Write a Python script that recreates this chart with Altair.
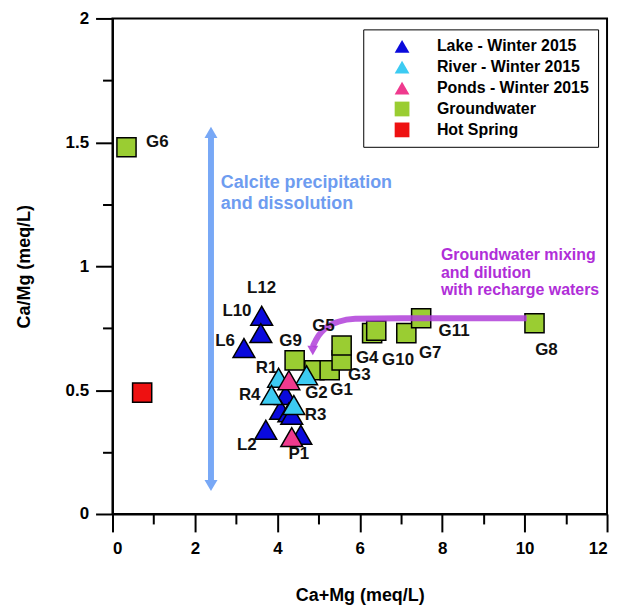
import altair as alt
import pandas as pd

# ---- data ----
lake_x = [3.62, 3.60, 3.19, 3.72, 4.20, 4.08, 4.28, 4.35, 4.57]
lake_y = [0.80, 0.73, 0.67, 0.34, 0.48, 0.42, 0.41, 0.40, 0.32]
river_x = [4.03, 4.71, 3.86, 4.40]
river_y = [0.55, 0.56, 0.48, 0.44]
pond_x = [4.28, 4.35]
pond_y = [0.54, 0.31]
gw_x = [0.34, 4.42, 4.90, 5.27, 5.56, 5.56, 6.30, 6.40, 7.13, 7.49, 10.24]
gw_y = [1.48, 0.62, 0.58, 0.58, 0.62, 0.68, 0.73, 0.74, 0.73, 0.79, 0.77]
hot_x = [0.72]
hot_y = [0.49]

categories = ["Lake - Winter 2015", "River - Winter 2015", "Ponds - Winter 2015",
              "Groundwater", "Hot Spring"]
colors = ["#0a0adc", "#3ccbf2", "#ef3a8e", "#9acd32", "#ee1111"]
shapes = ["triangle-up", "triangle-up", "triangle-up", "square", "square"]

label_text = ["G6", "L12", "L10", "L6", "L2", "G9", "G5", "R1", "R4", "G2", "G1",
              "G3", "G4", "G10", "G7", "G11", "G8", "R3", "P1"]
label_x = [1.09, 3.62, 3.02, 2.73, 3.26, 4.32, 5.12, 3.74, 3.33, 4.95, 5.56,
           5.99, 6.18, 6.93, 7.71, 8.29, 10.53, 4.93, 4.52]
label_y = [1.50, 0.91, 0.82, 0.70, 0.28, 0.70, 0.76, 0.59, 0.48, 0.49, 0.50,
           0.56, 0.63, 0.62, 0.65, 0.74, 0.66, 0.40, 0.24]

calcite_lines = ["Calcite precipitation", "and dissolution"]
calcite_x = [2.63, 2.63]
calcite_y = [1.336, 1.250]

mixing_lines = ["Groundwater mixing", "and dilution", "with recharge waters"]
mixing_x = [7.97, 7.97, 7.97]
mixing_y = [1.044, 0.972, 0.904]

# blue double arrow
calcite_arrow_x = [2.39]
calcite_arrow_y = [0.13]
calcite_arrow_y2 = [1.53]
calcite_head_top = [1.54]
calcite_head_bottom = [0.115]

# purple curved arrow
mix_curve_x = [10.05, 7.0, 5.89, 5.48, 5.17, 5.0, 4.90, 4.86]
mix_curve_y = [0.79, 0.79, 0.788, 0.776, 0.75, 0.72, 0.69, 0.675]
mix_head_x = [4.86]
mix_head_y = [0.66]

# ---- tables ----
squares = pd.DataFrame({
    "x": gw_x + hot_x,
    "y": gw_y + hot_y,
    "type": ["Groundwater"] * len(gw_x) + ["Hot Spring"] * len(hot_x),
})
tris = pd.DataFrame({
    "x": lake_x + river_x + pond_x,
    "y": lake_y + river_y + pond_y,
    "type": ["Lake - Winter 2015"] * len(lake_x) + ["River - Winter 2015"] * len(river_x)
            + ["Ponds - Winter 2015"] * len(pond_x),
})
labels = pd.DataFrame({"x": label_x, "y": label_y, "t": label_text})
calc_txt = pd.DataFrame({"x": calcite_x, "y": calcite_y, "t": calcite_lines})
mix_txt = pd.DataFrame({"x": mixing_x, "y": mixing_y, "t": mixing_lines})
arrow_df = pd.DataFrame({"x": calcite_arrow_x, "y": calcite_arrow_y, "y2": calcite_arrow_y2})
head_top_df = pd.DataFrame({"x": calcite_arrow_x, "y": calcite_head_top})
head_bot_df = pd.DataFrame({"x": calcite_arrow_x, "y": calcite_head_bottom})
curve_df = pd.DataFrame({"x": mix_curve_x, "y": mix_curve_y, "o": list(range(len(mix_curve_x)))})
mhead_df = pd.DataFrame({"x": mix_head_x, "y": mix_head_y})

FONT = "Liberation Sans"
xs = alt.Scale(domain=[0, 12], nice=False, zero=False)
ys = alt.Scale(domain=[0, 2], nice=False, zero=False)

x_major = alt.Axis(values=[0, 2, 4, 6, 8, 10, 12], title="Ca+Mg (meq/L)", grid=False,
                   tickSize=18, tickWidth=2, domainWidth=2, domainColor="black",
                   tickColor="black", labelPadding=9, titlePadding=30, format="~g",
                   labelFont=FONT, labelFontSize=17, labelFontWeight="bold", labelColor="black",
                   titleFont=FONT, titleFontSize=18, titleFontWeight="bold", titleColor="black",
                   orient="bottom")
y_major = alt.Axis(values=[0, 0.5, 1, 1.5, 2], title="Ca/Mg (meq/L)", grid=False,
                   tickSize=17, tickWidth=2, domainWidth=2, domainColor="black",
                   tickColor="black", labelPadding=7, titlePadding=32, format="~g",
                   labelFont=FONT, labelFontSize=17, labelFontWeight="bold", labelColor="black",
                   titleFont=FONT, titleFontSize=18, titleFontWeight="bold", titleColor="black",
                   orient="left")
x_minor = alt.Axis(values=[1, 3, 5, 7, 9, 11], labels=False, title=None, grid=False,
                   tickSize=10, tickWidth=2, domain=False, tickColor="black", orient="bottom")
y_minor = alt.Axis(values=[0.25, 0.75, 1.25, 1.75], labels=False, title=None, grid=False,
                   tickSize=10, tickWidth=2, domain=False, tickColor="black", orient="left")

legend = alt.Legend(title=None, orient="none", legendX=252, legendY=11,
                    fillColor="white", strokeColor="black", padding=9,
                    symbolSize=220, symbolStrokeWidth=0, symbolOffset=22,
                    labelOffset=27, rowPadding=5,
                    labelFont=FONT, labelFontSize=16,
                    labelFontWeight="bold", labelColor="black")
color_enc = alt.Color("type:N", scale=alt.Scale(domain=categories, range=colors), legend=legend)
shape_enc = alt.Shape("type:N", scale=alt.Scale(domain=categories, range=shapes), legend=legend)

base_axes = alt.Chart(arrow_df).mark_rule(opacity=0).encode(
    x=alt.X("x:Q", scale=xs, axis=x_major),
    y=alt.Y("y:Q", scale=ys, axis=y_major),
)
minor_axes = alt.Chart(arrow_df).mark_rule(opacity=0).encode(
    x=alt.X("x:Q", scale=xs, axis=x_minor),
    y=alt.Y("y:Q", scale=ys, axis=y_minor),
)

blue = "#78a8f6"
arrow_rule = alt.Chart(arrow_df).mark_rule(color=blue, strokeWidth=6).encode(
    x=alt.X("x:Q", scale=xs, axis=None),
    y=alt.Y("y:Q", scale=ys, axis=None),
    y2="y2:Q",
)
arrow_top = alt.Chart(head_top_df).mark_point(filled=True, color=blue, size=170, opacity=1,
                                              shape="triangle-up").encode(
    x=alt.X("x:Q", scale=xs, axis=None),
    y=alt.Y("y:Q", scale=ys, axis=None),
)
arrow_bot = alt.Chart(head_bot_df).mark_point(filled=True, color=blue, size=170, opacity=1,
                                              shape="triangle-down").encode(
    x=alt.X("x:Q", scale=xs, axis=None),
    y=alt.Y("y:Q", scale=ys, axis=None),
)

sq_layer = alt.Chart(squares).mark_point(filled=True, size=370, stroke="black",
                                          strokeWidth=1.5, opacity=1).encode(
    x=alt.X("x:Q", scale=xs, axis=None),
    y=alt.Y("y:Q", scale=ys, axis=None),
    color=color_enc, shape=shape_enc,
)
tri_layer = alt.Chart(tris).mark_point(filled=True, size=480, stroke="black",
                                        strokeWidth=1.5, opacity=1).encode(
    x=alt.X("x:Q", scale=xs, axis=None),
    y=alt.Y("y:Q", scale=ys, axis=None),
    color=color_enc, shape=shape_enc,
)

purple = "#b03fd9"
curve = alt.Chart(curve_df).mark_line(color=purple, strokeWidth=6, opacity=0.85,
                                      interpolate="monotone").encode(
    x=alt.X("x:Q", scale=xs, axis=None),
    y=alt.Y("y:Q", scale=ys, axis=None),
    order="o:Q",
)
curve_head = alt.Chart(mhead_df).mark_point(filled=True, color=purple, size=120, opacity=0.9,
                                            shape="triangle-down").encode(
    x=alt.X("x:Q", scale=xs, axis=None),
    y=alt.Y("y:Q", scale=ys, axis=None),
)

pt_labels = alt.Chart(labels).mark_text(font=FONT, fontSize=17, fontWeight="bold",
                                        color="#111111").encode(
    x=alt.X("x:Q", scale=xs, axis=None),
    y=alt.Y("y:Q", scale=ys, axis=None),
    text="t:N",
)
calc_text = alt.Chart(calc_txt).mark_text(font=FONT, fontSize=18, fontWeight="bold",
                                          color="#6e9cf0", align="left").encode(
    x=alt.X("x:Q", scale=xs, axis=None),
    y=alt.Y("y:Q", scale=ys, axis=None),
    text="t:N",
)
mix_text = alt.Chart(mix_txt).mark_text(font=FONT, fontSize=16, fontWeight="bold",
                                        color="#b02ed8", align="left").encode(
    x=alt.X("x:Q", scale=xs, axis=None),
    y=alt.Y("y:Q", scale=ys, axis=None),
    text="t:N",
)

chart = alt.layer(
    base_axes, minor_axes, arrow_rule, arrow_top, arrow_bot, sq_layer, tri_layer,
    curve, curve_head, pt_labels, calc_text, mix_text,
).resolve_axis(x="independent", y="independent").properties(
    width=497, height=498,
    autosize=alt.AutoSizeParams(type="none"),
    padding={"left": 105, "top": 9, "right": 8, "bottom": 96},
    background="white",
).configure_view(stroke="black", strokeWidth=2)

chart.save("out.html", embed_options={"renderer": "svg", "actions": False})
